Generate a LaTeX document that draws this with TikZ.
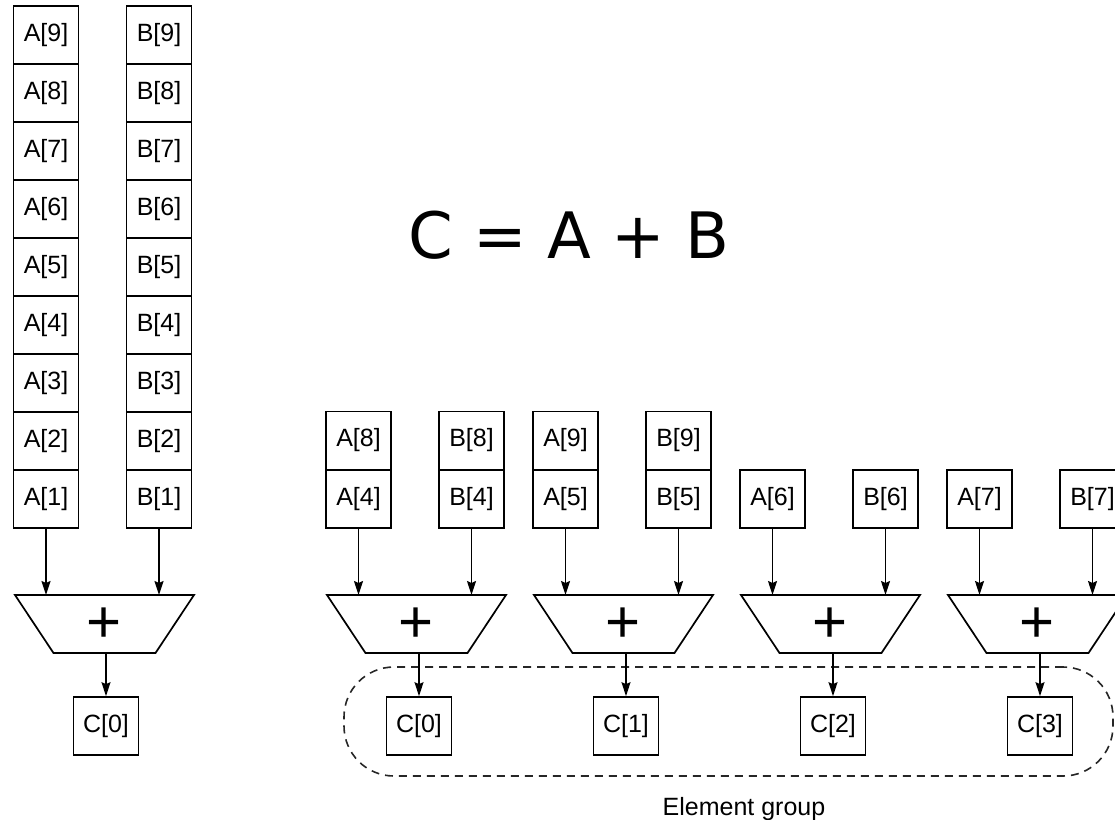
\documentclass[tikz,border=0pt]{standalone}
\usepackage{fontspec}
\setmainfont{Liberation Sans}
\newfontfamily\dejavu{DejaVu Sans}
\usetikzlibrary{arrows.meta}
\newcommand\drawadder[2]{%
  \coordinate (#1t) at (#2,595);
  \coordinate (#1b) at (#2,653);
  \draw[adder] ({#2-89.5},595) -- ({#2+89.5},595) -- ({#2+51},653) -- ({#2-51},653) -- cycle;
  \node[plus] (#1p) at (#2,625) {+};
}
\begin{document}
\begin{tikzpicture}[x=1pt,y=-1pt,
  cell/.style={draw, line width=1.7pt, minimum width=65pt, minimum height=58pt, inner sep=0pt, font=\fontsize{25}{25}\selectfont},
  adder/.style={draw, line width=1.7pt, line join=miter},
  plus/.style={font=\fontsize{60}{60}\selectfont, inner sep=0pt},
  arr/.style={line width=1.5pt, -{Stealth[length=14pt,width=9pt,inset=2pt]}},
  group/.style={draw=black!85, line width=1.6pt, dash pattern=on 8pt off 6pt, rounded corners=50pt, minimum width=769pt, minimum height=109pt, inner sep=0pt}]
\useasboundingbox (0,0) rectangle (1115,819);
\clip (0,0) rectangle (1115,819);

% left: whole vectors
\foreach \k in {9,...,1} {
  \node[cell] (la\k) at (46, {35+(9-\k)*58}) {A[\k]};
  \node[cell] (lb\k) at (159, {35+(9-\k)*58}) {B[\k]};
}
\drawadder{l}{104.5}
\draw[arr] (la1.south) -- (la1.south |- lt);
\draw[arr] (lb1.south) -- (lb1.south |- lt);
\node[cell] (lc0) at (106,726) {C[0]};
\draw[arr] (lc0.north |- lb) -- (lc0.north);

% equation
\node[font=\dejavu\fontsize{64}{64}\selectfont, anchor=base, inner sep=0pt] (eq) at (569,258) {C = A + B};

% element group
\node[group] (grp) at (728.5,721.5) {};
\node[anchor=base, inner sep=0pt, font=\fontsize{25}{25}\selectfont] (lbl) at (744,815) {Element group};

% group 0
\node[cell] (g0a8) at (358.5,440.5) {A[8]};
\node[cell] (g0a4) at (358.5,499) {A[4]};
\node[cell] (g0b8) at (471.5,440.5) {B[8]};
\node[cell] (g0b4) at (471.5,499) {B[4]};
\drawadder{g0}{416.5}
\draw[arr] (g0a4.south) -- (g0a4.south |- g0t);
\draw[arr] (g0b4.south) -- (g0b4.south |- g0t);
\node[cell] (g0c) at (419,726) {C[0]};
\draw[arr] (g0c.north |- g0b) -- (g0c.north);

% group 1
\node[cell] (g1a9) at (565.5,440.5) {A[9]};
\node[cell] (g1a5) at (565.5,499) {A[5]};
\node[cell] (g1b9) at (678.5,440.5) {B[9]};
\node[cell] (g1b5) at (678.5,499) {B[5]};
\drawadder{g1}{623.5}
\draw[arr] (g1a5.south) -- (g1a5.south |- g1t);
\draw[arr] (g1b5.south) -- (g1b5.south |- g1t);
\node[cell] (g1c) at (626,726) {C[1]};
\draw[arr] (g1c.north |- g1b) -- (g1c.north);

% group 2
\node[cell] (g2a6) at (772.5,499) {A[6]};
\node[cell] (g2b6) at (885.5,499) {B[6]};
\drawadder{g2}{830.5}
\draw[arr] (g2a6.south) -- (g2a6.south |- g2t);
\draw[arr] (g2b6.south) -- (g2b6.south |- g2t);
\node[cell] (g2c) at (833,726) {C[2]};
\draw[arr] (g2c.north |- g2b) -- (g2c.north);

% group 3
\node[cell] (g3a7) at (979.5,499) {A[7]};
\node[cell] (g3b7) at (1092.5,499) {B[7]};
\drawadder{g3}{1037.5}
\draw[arr] (g3a7.south) -- (g3a7.south |- g3t);
\draw[arr] (g3b7.south) -- (g3b7.south |- g3t);
\node[cell] (g3c) at (1040,726) {C[3]};
\draw[arr] (g3c.north |- g3b) -- (g3c.north);
\end{tikzpicture}
\end{document}
